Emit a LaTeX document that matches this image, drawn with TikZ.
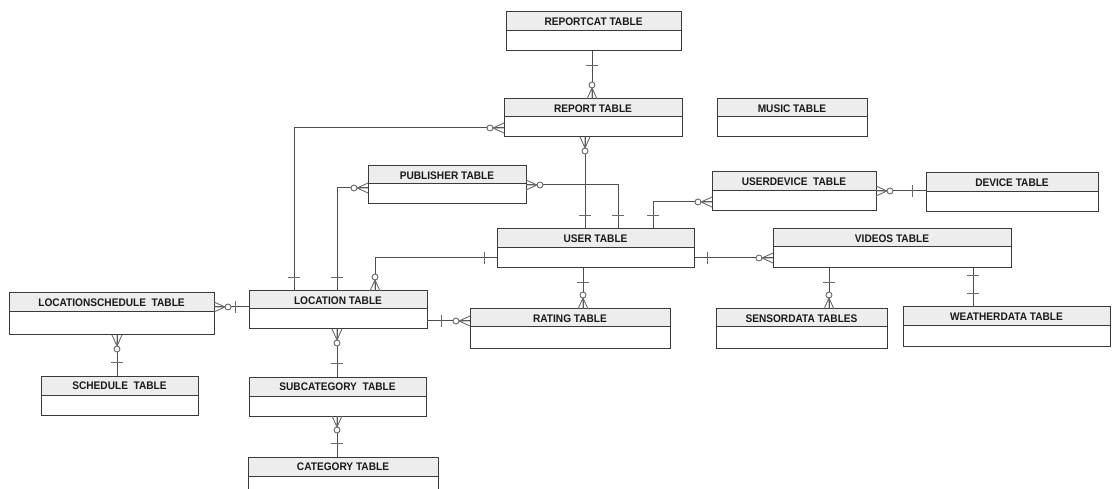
\documentclass[tikz,border=0pt]{standalone}
\usepackage{fontspec}
\newfontfamily\hdrfont{Liberation Sans}[FakeStretch=0.92]
\definecolor{hdrfill}{HTML}{EDEDED}
\definecolor{boxgray}{HTML}{3A3A3A}
\definecolor{linegray}{HTML}{4E4E4E}
\definecolor{footgray}{HTML}{6A6A6A}

% one entity: name, x1, y1, x2, y2, header bottom, title
\newcommand\erentity[7]{%
  \fill[hdrfill] (#2,#3) rectangle (#4,#6);
  \draw[boxline] (#2,#6) -- (#4,#6);
  \node[entbox, minimum width={(#4-#2)*1pt}, minimum height={(#5-#3)*1pt}]
    (#1) at ({(#2+#4)/2},{(#3+#5)/2}) {};
  \node[hdrtext] (#1-title) at ({(#2+#4)/2},{(#3+#6)/2+0.5}) {#7};
}

\begin{document}
\begin{tikzpicture}[x=1pt,y=-1pt,
  entbox/.style={draw=boxgray, line width=1pt, rectangle, inner sep=0pt, outer sep=0pt},
  boxline/.style={draw=boxgray, line width=1pt},
  hdrtext/.style={font=\hdrfont\bfseries\fontsize{11}{12}\selectfont, inner sep=0pt, text=black!90},
  conn/.style={draw=linegray, line width=1pt},
  foot/.style={draw=footgray, line width=0.9pt},
  pics/crow/.style={code={
    \draw[foot] (0,-5) -- (11,0) (0,0) -- (11,0) (0,5) -- (11,0);
    \draw[foot, fill=white] (14,0) circle [radius=3];
  }},
  pics/bar/.style={code={\draw[foot] (#1,-6) -- (#1,6);}},
]
\useasboundingbox (0,0) rectangle (1112,489);

% ---- entities ----
\erentity{reportcat}{506}{12}{681}{51}{31}{REPORTCAT TABLE}
\erentity{report}{504}{99}{682}{137}{117}{REPORT TABLE}
\erentity{music}{717}{99}{867}{137}{117}{MUSIC TABLE}
\erentity{publisher}{368}{166}{526}{204}{184}{PUBLISHER TABLE}
\erentity{user}{497}{229}{694}{268}{248}{USER TABLE}
\erentity{userdevice}{712}{172}{876}{211}{191}{USERDEVICE\ \ TABLE}
\erentity{device}{926}{173}{1098}{212}{192}{DEVICE TABLE}
\erentity{videos}{773}{229}{1011}{268}{247}{VIDEOS TABLE}
\erentity{locsched}{9}{293}{214}{335}{312}{LOCATIONSCHEDULE\ \ TABLE}
\erentity{location}{249}{291}{427}{329}{309}{LOCATION TABLE}
\erentity{schedule}{41}{376}{198}{415}{395}{SCHEDULE\ \ TABLE}
\erentity{subcategory}{249}{377}{426}{416}{396}{SUBCATEGORY\ \ TABLE}
\erentity{category}{248}{457}{438}{497}{476}{CATEGORY TABLE}
\erentity{rating}{470}{309}{670}{348}{327}{RATING TABLE}
\erentity{sensordata}{716}{309}{887}{348}{327}{SENSORDATA TABLES}
\erentity{weatherdata}{903}{307}{1110}{346}{326}{WEATHERDATA TABLE}

% ---- routing points ----
\coordinate (k1) at (592,0);
\coordinate (k2) at (294,128);
\coordinate (k3) at (585,0);
\coordinate (k4) at (337,188);
\coordinate (k5) at (618,185);
\coordinate (k6) at (653,202);
\coordinate (k7) at (0,191);
\coordinate (k8) at (375,258);
\coordinate (k9) at (0,258);
\coordinate (k10) at (583,0);
\coordinate (k11) at (829,0);
\coordinate (k12) at (973,0);
\coordinate (k13) at (0,307);
\coordinate (k14) at (0,321);
\coordinate (k15) at (337,0);
\coordinate (k16) at (117,0);
\coordinate (k17) at (337,0);

% ---- connectors ----
\draw[conn] (reportcat.south -| k1) -- (report.north -| k1);
\draw[conn] (report.west |- k2) -- (k2) -- (k2 |- location.north);
\draw[conn] (report.south -| k3) -- (user.north -| k3);
\draw[conn] (publisher.west |- k4) -- (k4) -- (k4 |- location.north);
\draw[conn] (publisher.east |- k5) -- (k5) -- (k5 |- user.north);
\draw[conn] (user.north -| k6) -- (k6) -- (userdevice.west |- k6);
\draw[conn] (userdevice.east |- k7) -- (device.west |- k7);
\draw[conn] (user.west |- k8) -- (k8) -- (k8 |- location.north);
\draw[conn] (user.east |- k9) -- (videos.west |- k9);
\draw[conn] (user.south -| k10) -- (rating.north -| k10);
\draw[conn] (videos.south -| k11) -- (sensordata.north -| k11);
\draw[conn] (videos.south -| k12) -- (weatherdata.north -| k12);
\draw[conn] (locsched.east |- k13) -- (location.west |- k13);
\draw[conn] (location.east |- k14) -- (rating.west |- k14);
\draw[conn] (location.south -| k15) -- (subcategory.north -| k15);
\draw[conn] (locsched.south -| k16) -- (schedule.north -| k16);
\draw[conn] (subcategory.south -| k17) -- (category.north -| k17);

% ---- cardinality marks ----
\pic[rotate=-90] at (reportcat.south -| k1) {bar=14};
\pic[rotate=90]  at (report.north -| k1) {crow};
\pic[rotate=180] at (report.west |- k2) {crow};
\pic[rotate=90]  at (k2 |- location.north) {bar=14};
\pic[rotate=-90] at (report.south -| k3) {crow};
\pic[rotate=90]  at (user.north -| k3) {bar=14};
\pic[rotate=180] at (publisher.west |- k4) {crow};
\pic[rotate=90]  at (k4 |- location.north) {bar=14};
\pic[rotate=0]   at (publisher.east |- k5) {crow};
\pic[rotate=90]  at (k5 |- user.north) {bar=14};
\pic[rotate=90]  at (user.north -| k6) {bar=14};
\pic[rotate=180] at (userdevice.west |- k6) {crow};
\pic[rotate=0]   at (userdevice.east |- k7) {crow};
\pic[rotate=180] at (device.west |- k7) {bar=14};
\pic[rotate=180] at (user.west |- k8) {bar=13};
\pic[rotate=90]  at (k8 |- location.north) {crow};
\pic[rotate=0]   at (user.east |- k9) {bar=13};
\pic[rotate=180] at (videos.west |- k9) {crow};
\pic[rotate=-90] at (user.south -| k10) {bar=14};
\pic[rotate=90]  at (rating.north -| k10) {crow};
\pic[rotate=-90] at (videos.south -| k11) {bar=14};
\pic[rotate=90]  at (sensordata.north -| k11) {crow};
\pic[rotate=-90] at (videos.south -| k12) {bar=7};
\pic[rotate=90]  at (weatherdata.north -| k12) {bar=14};
\pic[rotate=0]   at (locsched.east |- k13) {crow};
\pic[rotate=180] at (location.west |- k13) {bar=14};
\pic[rotate=0]   at (location.east |- k14) {bar=14};
\pic[rotate=180] at (rating.west |- k14) {crow};
\pic[rotate=-90] at (location.south -| k15) {crow};
\pic[rotate=90]  at (subcategory.north -| k15) {bar=14};
\pic[rotate=-90] at (locsched.south -| k16) {crow};
\pic[rotate=90]  at (schedule.north -| k16) {bar=14};
\pic[rotate=-90] at (subcategory.south -| k17) {crow};
\pic[rotate=90]  at (category.north -| k17) {bar=14};
\end{tikzpicture}
\end{document}
